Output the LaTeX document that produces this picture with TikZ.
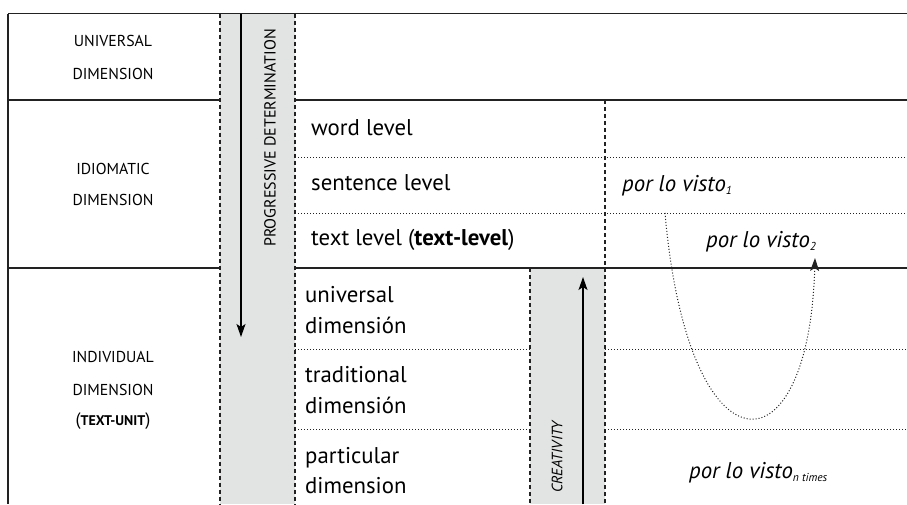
\documentclass[tikz,border=0pt]{standalone}
\usepackage{fontspec}
\setmainfont{PT Sans}
\usetikzlibrary{arrows.meta}
\definecolor{colgray}{HTML}{E2E3E3}
\definecolor{linec}{HTML}{222222}
\begin{document}
\begin{tikzpicture}[x=1pt,y=-1pt,
  solidline/.style={draw=linec,line width=1.6pt},
  dashline/.style={draw=linec,line width=1.2pt,dash pattern=on 4pt off 3pt},
  dotline/.style={draw=linec,line width=1pt,dash pattern=on 1pt off 2pt},
  caplabel/.style={font=\fontsize{15.8}{18}\selectfont,anchor=base,inner sep=0pt},
  lvl/.style={font=\fontsize{22.8}{26}\selectfont,anchor=base west,inner sep=0pt},
  exlabel/.style={font=\fontsize{22.8}{26}\selectfont\itshape,anchor=base west,inner sep=0pt},
  tipstyle/.style={-{Stealth[length=13pt,width=9pt,inset=3pt]}},
  arr/.style={draw=black,line width=1.2pt,tipstyle}
]
\useasboundingbox (0,0) rectangle (907,504);
% grey bands
\fill[colgray] (220,13.5) rectangle (295,504);
\fill[colgray] (530,268) rectangle (605,504);
% solid rules
\draw[solidline] (8,13.5) -- (907,13.5);
\draw[solidline] (8,13.5) -- (8,504);
\draw[solidline] (8,100) -- (220,100);
\draw[solidline] (295,100) -- (907,100);
\draw[solidline] (8,268) -- (220,268);
\draw[solidline] (295,268) -- (907,268);
% dashed rules
\draw[dashline] (220,13.5) -- (220,504);
\draw[dashline] (295,13.5) -- (295,504);
\draw[dashline] (605,100) -- (605,504);
\draw[dashline] (530,268) -- (530,504);
% dotted rules
\draw[dotline] (295,157) -- (907,157);
\draw[dotline] (295,213) -- (907,213);
\draw[dotline] (295,349) -- (530,349);
\draw[dotline] (605,349) -- (907,349);
\draw[dotline] (295,429) -- (530,429);
\draw[dotline] (605,429) -- (907,429);
% left column labels
\node[caplabel] (u1) at (113,46.7) {UNIVERSAL};
\node[caplabel] (u2) at (113,79) {DIMENSION};
\node[caplabel] (i1) at (113,174) {IDIOMATIC};
\node[caplabel] (i2) at (113,205.7) {DIMENSION};
\node[caplabel] (d1) at (113,362.7) {INDIVIDUAL};
\node[caplabel] (d2) at (113,395) {DIMENSION};
\node[caplabel,font=\fontsize{18}{20}\selectfont] (d3) at (113,425) {({\bfseries\fontsize{14}{16}\selectfont TEXT-UNIT})};
% band labels
\node[rotate=90,font=\fontsize{16}{18}\selectfont,inner sep=0pt] (pd) at (270,138) {PROGRESSIVE DETERMINATION};
\node[rotate=90,font=\fontsize{15}{18}\selectfont\itshape,inner sep=0pt] (cr) at (557,457) {CREATIVITY};
% levels
\node[lvl] (wl) at (311,135) {word level};
\node[lvl] (sl) at (311,190) {sentence level};
\node[lvl] (tl) at (311,245) {text level (\textbf{text-level})};
\node[lvl] (ud1) at (305,302) {universal};
\node[lvl] (ud2) at (305,333) {dimensión};
\node[lvl] (td1) at (305,382) {traditional};
\node[lvl] (td2) at (305,413) {dimensión};
\node[lvl] (pd1) at (305,463) {particular};
\node[lvl] (pd2) at (305,493) {dimension};
% examples
\node[exlabel] (v1) at (622,191.7) {por lo visto{\fontsize{11.5}{12}\selectfont\raisebox{-3pt}{1}}};
\node[exlabel] (v2) at (706,247) {por lo visto{\fontsize{11.5}{12}\selectfont\raisebox{-3pt}{2}}};
\node[exlabel] (vn) at (689,478) {por lo visto{\fontsize{11.5}{12}\selectfont\raisebox{-3pt}{n times}}};
% arrows
\coordinate (pdtop) at (241,13.5);
\coordinate (pdend) at (241,337);
\draw[arr] (pdtop) -- (pdend);
\coordinate (crbot) at (583,504);
\coordinate (crtop) at (583,277);
\draw[arr] (crbot) -- (crtop);
\coordinate (cs) at (665,213);
\coordinate (ce) at (815,258);
\draw[dotline,tipstyle] (cs) .. controls (688,478) and (809,478) .. (ce);
\end{tikzpicture}
\end{document}
